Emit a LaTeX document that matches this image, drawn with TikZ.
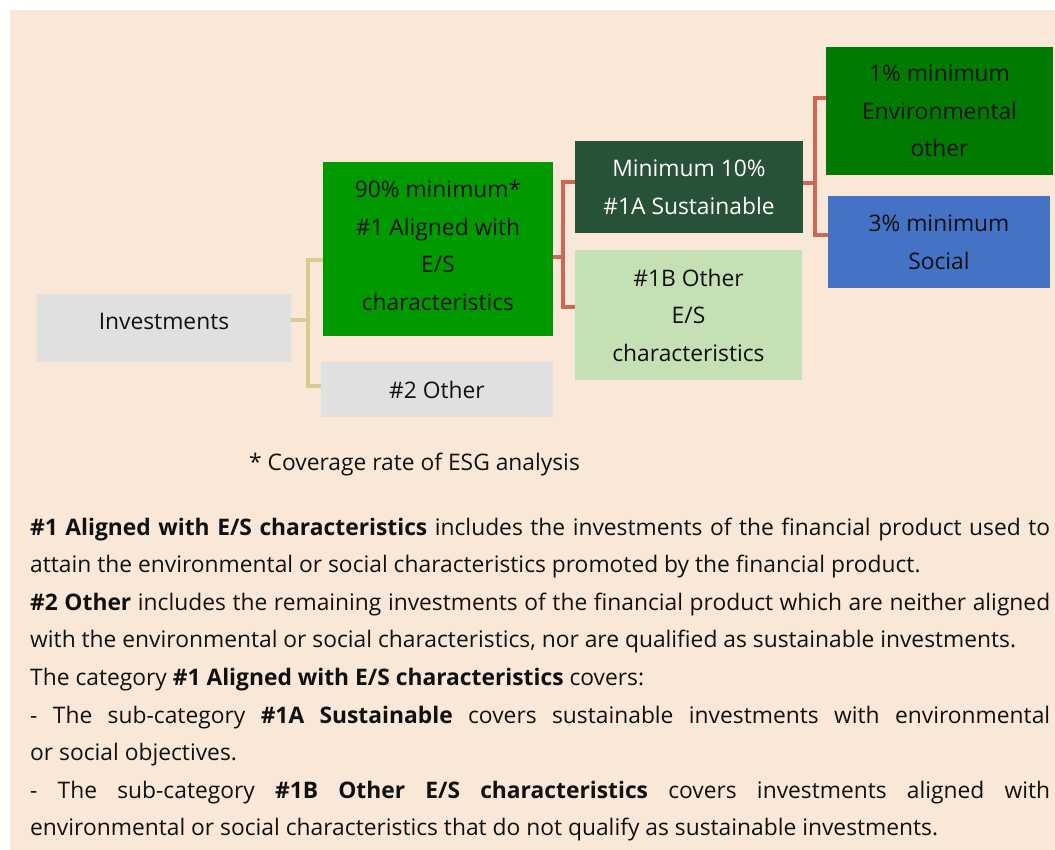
\documentclass[tikz,border=0pt]{standalone}
\usepackage{fontspec}
\setmainfont{Open Sans}
\definecolor{peach}{RGB}{249,232,215}
\definecolor{greybox}{RGB}{224,224,224}
\definecolor{greenA}{RGB}{0,153,0}
\definecolor{greenE}{RGB}{0,122,0}
\definecolor{darkgreen}{RGB}{40,82,56}
\definecolor{lightgreen}{RGB}{197,224,180}
\definecolor{socblue}{RGB}{68,114,196}
\definecolor{khaki}{RGB}{214,204,142}
\definecolor{redline}{RGB}{204,104,84}
\definecolor{txt}{RGB}{17,17,17}
\begin{document}
\begin{tikzpicture}[x=1pt,y=-1pt,
  box/.style={draw=none, inner sep=0pt, align=center,
    font=\fontsize{22.8}{37.5}\selectfont, text=txt},
  ptext/.style={anchor=base west, inner sep=0pt,
    font=\fontsize{22.8}{37.6}\selectfont, text=txt},
  kline/.style={draw=khaki, line width=3.2pt},
  rline/.style={draw=redline, line width=3.2pt}]
\useasboundingbox (0,0) rectangle (1055,850);
\fill[peach] (10,10) rectangle (1055,850);

% boxes
\node[box, fill=greybox, minimum width=254pt, minimum height=68pt] (inv) at (164,328) {};
\node[box] (invtext) at ([yshift=6.5pt]inv.center) {Investments};
\node[box, fill=greenA, minimum width=230pt, minimum height=174pt] (al) at (438,249) {};
\node[box] (altext) at ([yshift=3.5pt]al.center) {90\% minimum*\\\#1 Aligned with\\E/S\\characteristics};
\node[box, fill=greybox, minimum width=232pt, minimum height=55pt] (oth) at (437,389.5) {\#2 Other};
\node[box, fill=darkgreen, text=white, minimum width=228pt, minimum height=92pt] (s1a) at (689,187) {Minimum 10\%\\\#1A Sustainable};
\node[box, fill=lightgreen, minimum width=227pt, minimum height=130pt] (s1b) at (688.5,315) {\#1B Other\\E/S\\characteristics};
\node[box, fill=greenE, minimum width=227pt, minimum height=128pt] (env) at (939.5,111) {1\% minimum\\Environmental\\other};
\node[box, fill=socblue, minimum width=222pt, minimum height=92pt] (soc) at (939,242) {3\% minimum\\Social};

% khaki connector
\coordinate (ia) at ([yshift=8pt]inv.east);
\coordinate (kt) at (308,260);
\coordinate (kb) at (308,386);
\draw[kline] (ia) -- (ia -| kt);
\draw[kline] (kt -| al.west) -- (kt) -- (kb) -- (kb -| oth.west);

% red connector 1
\coordinate (aa) at ([yshift=-8pt]al.east);
\coordinate (rt) at (563,182);
\coordinate (rb) at (563,307);
\draw[rline] (aa) -- (aa -| rt);
\draw[rline] (rt -| s1a.west) -- (rt) -- (rb) -- (rb -| s1b.west);

% red connector 2
\coordinate (sa) at ([yshift=4pt]s1a.east);
\coordinate (qt) at (815,98);
\coordinate (qb) at (815,235);
\draw[rline] (sa) -- (sa -| qt);
\draw[rline] (qt -| env.west) -- (qt) -- (qb) -- (qb -| soc.west);

% footnote
\node[ptext] (fn) at (249,470) {* Coverage rate of ESG analysis};

% explanation
\node[ptext] (l1) at (30,535) {\makebox[1020pt][s]{\textbf{\#1 Aligned with E/S characteristics} includes the investments of the financial product used to}};
\node[ptext] (l2) at (30,572.6) {attain the environmental or social characteristics promoted by the financial product.};
\node[ptext] (l3) at (30,610.2) {\makebox[1020pt][s]{\textbf{\#2 Other} includes the remaining investments of the financial product which are neither aligned}};
\node[ptext] (l4) at (30,647.8) {with the environmental or social characteristics, nor are qualified as sustainable investments.};
\node[ptext] (l5) at (30,685.4) {The category \textbf{\#1 Aligned with E/S characteristics} covers:};
\node[ptext] (l6) at (30,723) {\makebox[1020pt][s]{- The sub-category \textbf{\#1A Sustainable} covers sustainable investments with environmental}};
\node[ptext] (l7) at (30,760.6) {or social objectives.};
\node[ptext] (l8) at (30,798.2) {\makebox[1020pt][s]{- The sub-category \textbf{\#1B Other E/S characteristics} covers investments aligned with}};
\node[ptext] (l9) at (30,835.8) {environmental or social characteristics that do not qualify as sustainable investments.};
\end{tikzpicture}
\end{document}
